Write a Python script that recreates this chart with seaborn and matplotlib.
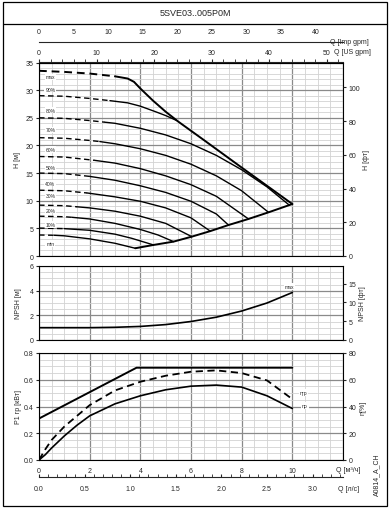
import matplotlib
matplotlib.use("Agg")
import matplotlib.pyplot as plt
import seaborn as sns
from matplotlib.patches import Rectangle
from matplotlib.lines import Line2D
from matplotlib.ticker import MultipleLocator

sns.set_style("white")
plt.rcParams["font.family"] = ["Liberation Sans", "DejaVu Sans"]

# ---- H curves (Q m3/h, H m), last dashed point marks the end of the dashed part
Q_max = [0, 1.0, 2.0, 3.0, 3.5, 3.75, 4.0, 4.5, 5.0, 5.5, 6.5, 8.0, 9.0, 10.0]
H_max = [33.5, 33.3, 33.0, 32.5, 32.1, 31.5, 30.3, 28.1, 26.1, 24.3, 21.0, 16.0, 12.7, 9.4]
Q_90 = [0, 1.0, 2.0, 2.8, 3.5, 4.0, 4.6, 5.0, 5.44]
H_90 = [29.0, 28.9, 28.5, 28.1, 27.7, 27.1, 26.1, 25.4, 24.5]
Q_80 = [0, 1.0, 2.0, 2.6, 3.0, 4.0, 5.0, 6.0, 7.0, 8.0, 9.0, 9.88]
H_80 = [25.0, 24.9, 24.5, 24.2, 24.0, 23.1, 21.9, 20.3, 18.2, 15.6, 12.5, 9.2]
Q_70 = [0, 1.0, 2.0, 2.4, 3.0, 4.0, 5.0, 6.0, 7.0, 8.0, 9.06]
H_70 = [21.4, 21.3, 20.9, 20.7, 20.3, 19.4, 18.2, 16.6, 14.5, 11.8, 7.9]
Q_60 = [0, 1.0, 2.0, 2.2, 3.0, 4.0, 5.0, 6.0, 7.0, 8.27]
H_60 = [18.0, 17.9, 17.4, 17.3, 16.8, 15.8, 14.5, 12.9, 10.8, 6.7]
Q_50 = [0, 1.0, 2.0, 3.0, 4.0, 5.0, 6.0, 7.0, 7.48]
H_50 = [15.0, 14.9, 14.4, 13.7, 12.7, 11.5, 9.9, 7.6, 5.6]
Q_40 = [0, 1.0, 1.9, 3.0, 4.0, 5.0, 6.0, 6.76]
H_40 = [11.9, 11.8, 11.4, 10.7, 9.9, 8.7, 6.9, 4.5]
Q_30 = [0, 1.0, 1.5, 2.0, 3.0, 4.0, 5.0, 6.03]
H_30 = [9.2, 9.1, 8.9, 8.7, 8.1, 7.2, 5.9, 3.5]
Q_20 = [0, 1.0, 1.3, 2.0, 3.0, 4.0, 4.7, 5.31]
H_20 = [7.2, 7.1, 7.0, 6.7, 5.9, 4.8, 3.8, 2.6]
Q_10 = [0, 1.0, 2.0, 3.0, 3.66, 4.52]
H_10 = [5.05, 4.95, 4.65, 3.95, 3.2, 2.0]
Q_min = [0, 0.6, 1.0, 2.0, 3.0, 3.8]
H_min = [3.8, 3.75, 3.65, 3.1, 2.3, 1.4]
Q_edge = [3.8, 4.52, 5.31, 6.03, 6.76, 7.48, 8.27, 9.06, 10.0]
H_edge = [1.4, 2.0, 2.6, 3.5, 4.5, 5.6, 6.7, 7.9, 9.4]

speed_labels = ["max", "90%", "80%", "70%", "60%", "50%", "40%", "30%", "20%", "10%", "min"]
label_h = [32.4, 30.2, 26.4, 22.8, 19.3, 16.0, 13.2, 10.9, 8.3, 5.7, 2.3]
dash_end = [3.0, 2.8, 2.6, 2.4, 2.2, 2.0, 1.9, 1.5, 1.3, 1.0, 0.6]

# ---- NPSH
Q_npsh = [0, 1, 2, 3, 4, 5, 6, 7, 8, 9, 10]
NPSH = [1.0, 1.0, 1.0, 1.03, 1.1, 1.25, 1.5, 1.85, 2.35, 3.0, 3.85]

# ---- power / efficiency
Q_p1 = [0, 3.85, 10.0]
P1 = [0.31, 0.69, 0.69]
Q_eta = [0, 0.25, 0.5, 1, 1.5, 2, 3, 4, 5, 6, 7, 8, 9, 10]
ETA_GR = [0, 8, 15, 25, 33, 41, 52, 58.5, 63, 66, 67, 65, 59.5, 45.5]
ETA_P = [0, 4, 9, 18, 26, 33, 42, 48, 52.5, 55.2, 56, 54.5, 48, 38.5]

W, HT = 390, 510


def rect(x0, y0, x1, y1):
    return [x0 / W, 1 - y1 / HT, (x1 - x0) / W, (y1 - y0) / HT]


fig = plt.figure(figsize=(3.9, 5.1), dpi=100)
fig.add_artist(Rectangle((3 / W, 3 / HT), 384 / W, 504 / HT, transform=fig.transFigure,
                         fill=False, lw=0.9, color="black"))
fig.add_artist(Line2D([3 / W, 387 / W], [1 - 25 / HT] * 2, transform=fig.transFigure,
                      lw=0.9, color="black"))
fig.text(195 / W, 1 - 14 / HT, "5SVE03..005P0M", ha="center", va="center", fontsize=6.5)

ax_h = fig.add_axes(rect(39, 63.5, 343, 257))
ax_n = fig.add_axes(rect(39, 267, 343, 341))
ax_p = fig.add_axes(rect(39, 354, 343, 461))

FS = 5
for ax, ymaj, ymin, ylim in [(ax_h, 5, 1, 35), (ax_n, 2, 0.5, 6), (ax_p, 0.2, 0.05, 0.8)]:
    ax.set_xlim(0, 12)
    ax.set_ylim(0, ylim)
    ax.xaxis.set_major_locator(MultipleLocator(2))
    ax.xaxis.set_minor_locator(MultipleLocator(0.5))
    ax.yaxis.set_major_locator(MultipleLocator(ymaj))
    ax.yaxis.set_minor_locator(MultipleLocator(ymin))
    ax.grid(which="minor", color="#d2d2d2", lw=0.6)
    ax.grid(which="major", color="#8a8a8a", lw=0.9)
    ax.set_axisbelow(True)
    ax.tick_params(axis="x", which="both", length=0, labelbottom=False)
    ax.tick_params(axis="y", which="major", length=2, pad=2, labelsize=FS)
    ax.tick_params(axis="y", which="minor", length=0)
    for s in ax.spines.values():
        s.set_color("black")
        s.set_linewidth(0.8)

ax_h.set_ylabel("H [м]", fontsize=FS, labelpad=3)
ax_n.set_ylabel("NPSH [м]", fontsize=FS, labelpad=5)
ax_p.set_ylabel("P1 гр [кВт]", fontsize=FS, labelpad=1)
ax_p.yaxis.set_major_formatter(lambda v, p: f"{v:.1f}")

# right axes
twins = []
for ax, top, step, lab in [(ax_h, 35 * 3.2808, 20, "H [фт]"), (ax_n, 6 * 3.2808, 5, "NPSH [фт]"),
                           (ax_p, 80, 20, "η[%]")]:
    t = ax.twinx()
    t.set_ylim(0, top)
    t.yaxis.set_major_locator(MultipleLocator(step))
    t.tick_params(axis="y", length=2, pad=2, labelsize=FS)
    t.set_ylabel(lab, fontsize=FS, labelpad=2)
    t.grid(False)
    for s in t.spines.values():
        s.set_visible(False)
    twins.append(t)
ax_p2 = twins[2]

# H curves
curves = [(Q_max, H_max), (Q_90, H_90), (Q_80, H_80), (Q_70, H_70), (Q_60, H_60), (Q_50, H_50),
          (Q_40, H_40), (Q_30, H_30), (Q_20, H_20), (Q_10, H_10), (Q_min, H_min)]
for i, ((qs, hs), qd) in enumerate(zip(curves, dash_end)):
    lw = 1.4 if i == 0 else 1.0
    qa = [q for q in qs if q <= qd]
    ha = [h for q, h in zip(qs, hs) if q <= qd]
    qb = [q for q in qs if q >= qd]
    hb = [h for q, h in zip(qs, hs) if q >= qd]
    sns.lineplot(x=qa, y=ha, ax=ax_h, color="black", lw=lw, dashes=False,
                 linestyle=(0, (4, 2.5)), sort=False, estimator=None)
    sns.lineplot(x=qb, y=hb, ax=ax_h, color="black", lw=lw, sort=False, estimator=None)
sns.lineplot(x=Q_edge, y=H_edge, ax=ax_h, color="black", lw=1.4, sort=False, estimator=None)

for lab, y in zip(speed_labels, label_h):
    ax_h.text(0.45, y, lab, fontsize=3.6, ha="center", va="center",
              bbox=dict(facecolor="white", edgecolor="none", pad=0.6))

# NPSH
sns.lineplot(x=Q_npsh, y=NPSH, ax=ax_n, color="black", lw=1.2, sort=False, estimator=None)
ax_n.text(9.9, 4.35, "max", fontsize=3.6, ha="center", va="center",
          bbox=dict(facecolor="white", edgecolor="none", pad=0.6))

# P1 and efficiency
sns.lineplot(x=Q_p1, y=P1, ax=ax_p, color="black", lw=1.4, sort=False, estimator=None)
sns.lineplot(x=Q_eta, y=ETA_GR, ax=ax_p2, color="black", lw=1.3, linestyle=(0, (4, 2.5)),
             sort=False, estimator=None)
sns.lineplot(x=Q_eta, y=ETA_P, ax=ax_p2, color="black", lw=1.2, sort=False, estimator=None)
ax_p2.text(10.45, 50.5, "ηгр", fontsize=3.6, ha="center", va="center",
           bbox=dict(facecolor="white", edgecolor="none", pad=0.6))
ax_p2.text(10.5, 41, "ηр", fontsize=3.6, ha="center", va="center",
           bbox=dict(facecolor="white", edgecolor="none", pad=0.6))

# bottom m3/h labels
ax_p.tick_params(axis="x", which="major", labelbottom=True, labelsize=FS, pad=5)
ax_p.set_xticks(range(0, 13, 2))
ax_p.set_xticklabels([str(v) for v in range(0, 11, 2)] + [""])

# l/s axis
ls_ax = ax_p.secondary_xaxis(-0.159, functions=(lambda q: q / 3.6, lambda l: l * 3.6))
ls_ax.set_xticks([0, 0.5, 1.0, 1.5, 2.0, 2.5, 3.0])
ls_ax.xaxis.set_minor_locator(MultipleLocator(0.1))
ls_ax.xaxis.set_major_formatter(lambda v, p: f"{v:.1f}")
ls_ax.tick_params(axis="x", which="both", direction="in", length=2, pad=6, labelsize=FS)
ls_ax.spines["bottom"].set_linewidth(0.8)

# US gpm axis on top of H
us_ax = ax_h.secondary_xaxis("top", functions=(lambda q: q * 4.4029, lambda g: g / 4.4029))
us_ax.set_xticks(range(0, 51, 10))
us_ax.xaxis.set_minor_locator(MultipleLocator(2))
us_ax.tick_params(axis="x", which="both", direction="out", length=2, pad=3, labelsize=FS)

# Imp gpm axis
ax_imp = fig.add_axes(rect(39, 43, 343, 43.01))
ax_imp.set_xlim(0, 12 * 3.6662)
ax_imp.set_yticks([])
ax_imp.patch.set_alpha(0)
for s in ["left", "right", "top"]:
    ax_imp.spines[s].set_visible(False)
ax_imp.spines["bottom"].set_linewidth(0.8)
ax_imp.set_xticks(range(0, 41, 5))
ax_imp.xaxis.set_minor_locator(MultipleLocator(1))
ax_imp.tick_params(axis="x", which="both", direction="in", length=2, labelbottom=False,
                   labeltop=True, top=False, pad=5, labelsize=FS)

fig.text(330 / W, 1 - 42 / HT, "Q [Imp gpm]", fontsize=FS, ha="left", va="center")
fig.text(334 / W, 1 - 53 / HT, "Q [US gpm]", fontsize=FS, ha="left", va="center")
fig.text(336 / W, 1 - 471 / HT, "Q [м³/ч]", fontsize=FS, ha="left", va="center")
fig.text(338 / W, 1 - 490 / HT, "Q [л/с]", fontsize=FS, ha="left", va="center")
fig.text(377 / W, 1 - 475 / HT, "A0814_A_CH", fontsize=FS, ha="center", va="center", rotation=90)

fig.savefig("out.png", dpi=100)
